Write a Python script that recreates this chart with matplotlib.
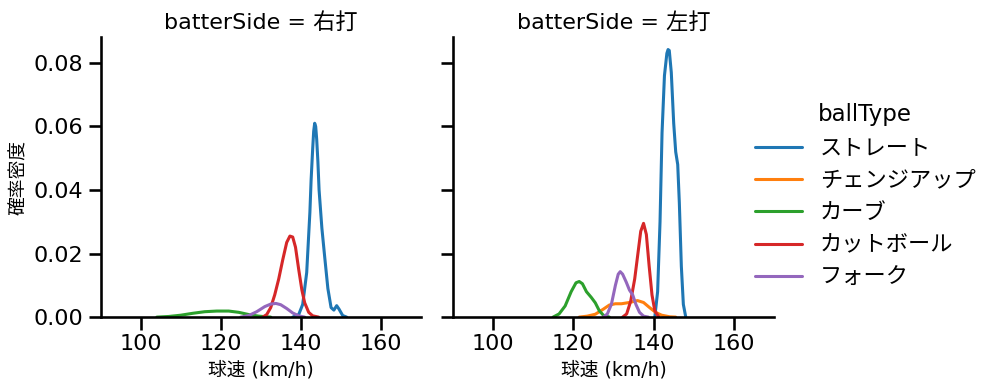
import matplotlib
matplotlib.use("Agg")
import matplotlib.pyplot as plt
import seaborn as sns

sns.set_theme(context="talk", style="ticks",
              rc={"axes.edgecolor": "black", "xtick.color": "black", "ytick.color": "black",
                  "text.color": "black", "axes.labelcolor": "black"})
plt.rcParams['font.family'] = ['DejaVu Sans', 'Noto Sans CJK JP']

ball_types = ["ストレート", "チェンジアップ", "カーブ", "カットボール", "フォーク"]
colors = ["#1f77b4", "#ff7f0e", "#2ca02c", "#d62728", "#9467bd"]
sides = ["右打", "左打"]

# density curves: (speed km/h, density)
right_straight_x = [138.0, 139.5, 140.5, 141.5, 142.3, 142.6, 143.0, 143.25, 143.5, 143.75, 144.0, 144.3, 144.6, 145.3, 146.0, 146.8, 147.6, 148.3, 149.0, 149.6, 150.5, 151.5]
right_straight_y = [0.0, 0.0008, 0.004, 0.014, 0.033, 0.043, 0.053, 0.0585, 0.061, 0.060, 0.056, 0.049, 0.040, 0.028, 0.019, 0.009, 0.003, 0.0022, 0.0036, 0.0025, 0.0005, 0.0]
right_cut_x = [130.5, 131.5, 132.5, 133.5, 134.5, 135.5, 136.5, 137.3, 138.0, 138.7, 139.5, 140.3, 141.0, 142.0, 143.0, 144.5]
right_cut_y = [0.0, 0.0008, 0.003, 0.007, 0.012, 0.018, 0.0235, 0.0255, 0.0252, 0.022, 0.015, 0.0085, 0.0045, 0.0015, 0.0004, 0.0]
right_fork_x = [125, 127, 129, 131, 132.5, 133.8, 135, 136.5, 138, 139.5, 141]
right_fork_y = [0.0, 0.0005, 0.0017, 0.0033, 0.0041, 0.0043, 0.0039, 0.0027, 0.0013, 0.0004, 0.0]
right_curve_x = [104, 107, 110, 113, 116, 119, 122, 124.5, 127, 129.5, 132.5]
right_curve_y = [0.0, 0.0002, 0.0006, 0.0012, 0.0017, 0.0019, 0.0019, 0.0015, 0.0008, 0.0003, 0.0]

left_straight_x = [140.3, 141.0, 141.6, 142.1, 142.7, 143.3, 143.6, 143.9, 144.4, 145.0, 145.5, 146.0, 146.4, 146.9, 147.4, 148.0]
left_straight_y = [0.0, 0.008, 0.030, 0.058, 0.076, 0.083, 0.0842, 0.0839, 0.077, 0.061, 0.052, 0.048, 0.036, 0.016, 0.004, 0.0]
left_cut_x = [132.3, 133.3, 134.3, 135.3, 136.0, 136.8, 137.5, 138.2, 138.9, 139.6, 140.3, 141.3]
left_cut_y = [0.0, 0.001, 0.005, 0.012, 0.019, 0.027, 0.0295, 0.026, 0.016, 0.007, 0.002, 0.0]
left_fork_x = [127.5, 128.5, 129.5, 130.5, 131.2, 131.7, 132.3, 133.2, 134.0, 134.8, 135.6, 136.5, 137.5, 138.7]
left_fork_y = [0.0, 0.001, 0.004, 0.010, 0.0135, 0.0143, 0.0135, 0.011, 0.0085, 0.007, 0.004, 0.0015, 0.0003, 0.0]
left_curve_x = [115, 116.5, 118, 119.5, 120.7, 121.5, 122.3, 123.3, 124.5, 125.5, 126.5, 127.5, 129]
left_curve_y = [0.0, 0.001, 0.0035, 0.008, 0.0108, 0.0112, 0.0105, 0.008, 0.0062, 0.0045, 0.002, 0.0006, 0.0]
left_change_x = [121.5, 123.5, 125.5, 127.5, 129, 130.5, 132, 134, 136, 137.5, 139, 140.5, 142, 144, 145.5]
left_change_y = [0.0, 0.0003, 0.0009, 0.0025, 0.0038, 0.0042, 0.0042, 0.0046, 0.0052, 0.0046, 0.003, 0.0015, 0.0006, 0.0001, 0.0]

curves = {
    "右打": {
        "ストレート": (right_straight_x, right_straight_y),
        "カーブ": (right_curve_x, right_curve_y),
        "カットボール": (right_cut_x, right_cut_y),
        "フォーク": (right_fork_x, right_fork_y),
    },
    "左打": {
        "ストレート": (left_straight_x, left_straight_y),
        "チェンジアップ": (left_change_x, left_change_y),
        "カーブ": (left_curve_x, left_curve_y),
        "カットボール": (left_cut_x, left_cut_y),
        "フォーク": (left_fork_x, left_fork_y),
    },
}

fig = plt.figure(figsize=(9.99, 3.91), dpi=100)
ax1 = fig.add_axes([0.101, 0.189, 0.320, 0.716])
ax2 = fig.add_axes([0.453, 0.189, 0.322, 0.716], sharey=ax1)

for ax, side in zip([ax1, ax2], sides):
    for bt, c in zip(ball_types, colors):
        if bt in curves[side]:
            xs, ys = curves[side][bt]
            ax.plot(xs, ys, color=c, lw=2.2)
    ax.set_xlim(90, 170)
    ax.set_ylim(0, 0.0881)
    ax.set_xticks([100, 120, 140, 160])
    ax.set_yticks([0, 0.02, 0.04, 0.06, 0.08])
    ax.set_title(f"batterSide = {side}", fontsize=16)
    ax.set_xlabel("球速 (km/h)", fontsize=13.5)
    ax.tick_params(labelsize=16)
    sns.despine(ax=ax)

ax1.set_ylabel("確率密度", fontsize=13.5)
ax2.tick_params(labelleft=False)

handles = [plt.Line2D([], [], color=c, lw=2.2) for c in colors]
leg = fig.legend(handles, ball_types, title="ballType", loc="center left",
                 bbox_to_anchor=(0.736, 0.5), frameon=False, fontsize=16,
                 title_fontsize=16.5, labelspacing=0.56, handlelength=2.1)

fig.savefig("out.png", dpi=100)
